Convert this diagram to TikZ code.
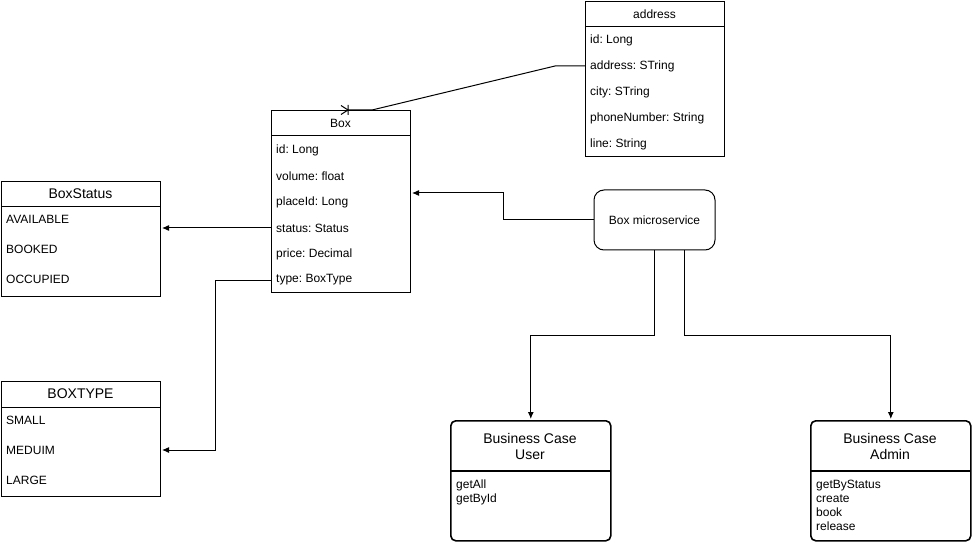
\documentclass[tikz,border=0pt]{standalone}
\usepackage{fontspec}
\setmainfont{Liberation Sans}
\usetikzlibrary{arrows.meta}
\frenchspacing

\tikzset{
  tbl/.style={draw,line width=1pt,anchor=north west,inner sep=0pt},
  row/.style={anchor=west,inner sep=0pt,font=\fontsize{12}{14}\selectfont},
  small/.style={inner sep=0pt,font=\fontsize{12}{14}\selectfont},
  big/.style={inner sep=0pt,align=center,font=\fontsize{14}{16}\selectfont},
  bcase/.style={draw,line width=1.6pt,rounded corners=5pt,anchor=north west,inner sep=0pt,
    minimum width=160pt,minimum height=120pt},
  link/.style={line width=1pt},
  arr/.style={line width=1pt,-{Latex[length=7pt,width=6pt]},shorten >=1pt}
}

\begin{document}
\begin{tikzpicture}[x=1pt,y=-1pt]
  \useasboundingbox (0,0) rectangle (972,548);

  % address table
  \node[tbl,minimum width=139pt,minimum height=155pt] (addr) at (585,1) {};
  \draw[link] (585,27) -- (724,27);
  \node[small] (addr-title) at (654.5,14) {address};
  \foreach \t [count=\i] in {id: Long,address: STring,city: STring,phoneNumber: String,line: String}
    \node[row] (addr-\i) at (590,14+26*\i) {\t};

  % Box table
  \node[tbl,minimum width=139pt,minimum height=182pt] (box) at (271,110) {};
  \draw[link] (271,136) -- (410,136);
  \node[small] (box-title) at (340.5,123) {Box};
  \foreach \t [count=\i] in {id: Long,volume: float,placeId: Long,status: Status,price: Decimal,type: BoxType}
    \node[row] (box-\i) at (276,124+26*\i) {\t};

  % BoxStatus table
  \node[tbl,minimum width=159pt,minimum height=115pt] (bstat) at (1,181) {};
  \draw[link] (1,207) -- (160,207);
  \node[big] (bstat-title) at (80.5,194) {BoxStatus};
  \foreach \t [count=\i] in {AVAILABLE,BOOKED,OCCUPIED}
    \node[row] (bstat-\i) at (6,189+30*\i) {\t};

  % BOXTYPE table
  \node[tbl,minimum width=159pt,minimum height=115pt] (btype) at (1,381) {};
  \draw[link] (1,407) -- (160,407);
  \node[big] (btype-title) at (80.5,394) {BOXTYPE};
  \foreach \t [count=\i] in {SMALL,MEDUIM,LARGE}
    \node[row] (btype-\i) at (6,390+30*\i) {\t};

  % service and business cases
  \node[draw,line width=1pt,rounded corners=10pt,minimum width=121pt,minimum height=60pt,
    font=\fontsize{12}{14}\selectfont] (ms) at (654.5,220) {Box microservice};

  \node[bcase] (bcu) at (450,420) {};
  \draw[line width=1.6pt] (450,471) -- (610,471);
  \node[big] (bcu-title) at (530,446) {Business Case\\User};
  \node[small,anchor=north west,align=left] (bcu-ops) at (456,479.5) {getAll\\getById};

  \node[bcase] (bca) at (810,420) {};
  \draw[line width=1.6pt] (810,471) -- (970,471);
  \node[big] (bca-title) at (890,446) {Business Case\\Admin};
  \node[small,anchor=north west,align=left] (bca-ops) at (816,479.5) {getByStatus\\create\\book\\release};

  % connectors
  \coordinate (crow) at (348,110);
  \draw[link] (addr.west |- addr-2) -- ++(-30,0) -- (372,110) -- (crow);
  \draw[link] (341,105.5) -- (crow) -- (341,114.5) (crow) ++(0,-5) -- ++(0,10);

  \draw[arr] (ms.west) -| (503,193) -- (box.east |- 0,193);
  \draw[arr] (box.west |- box-4) -- (bstat.east |- box-4);
  \draw[arr] (box.west |- box-6) -- ++(-56,0) |- (btype.east |- btype-2);
  \draw[arr] (ms.south) -- ++(0,85) -| (bcu.north);
  \draw[arr] ([xshift=30pt]ms.south) -- ++(0,85) -| (bca.north);
\end{tikzpicture}
\end{document}
